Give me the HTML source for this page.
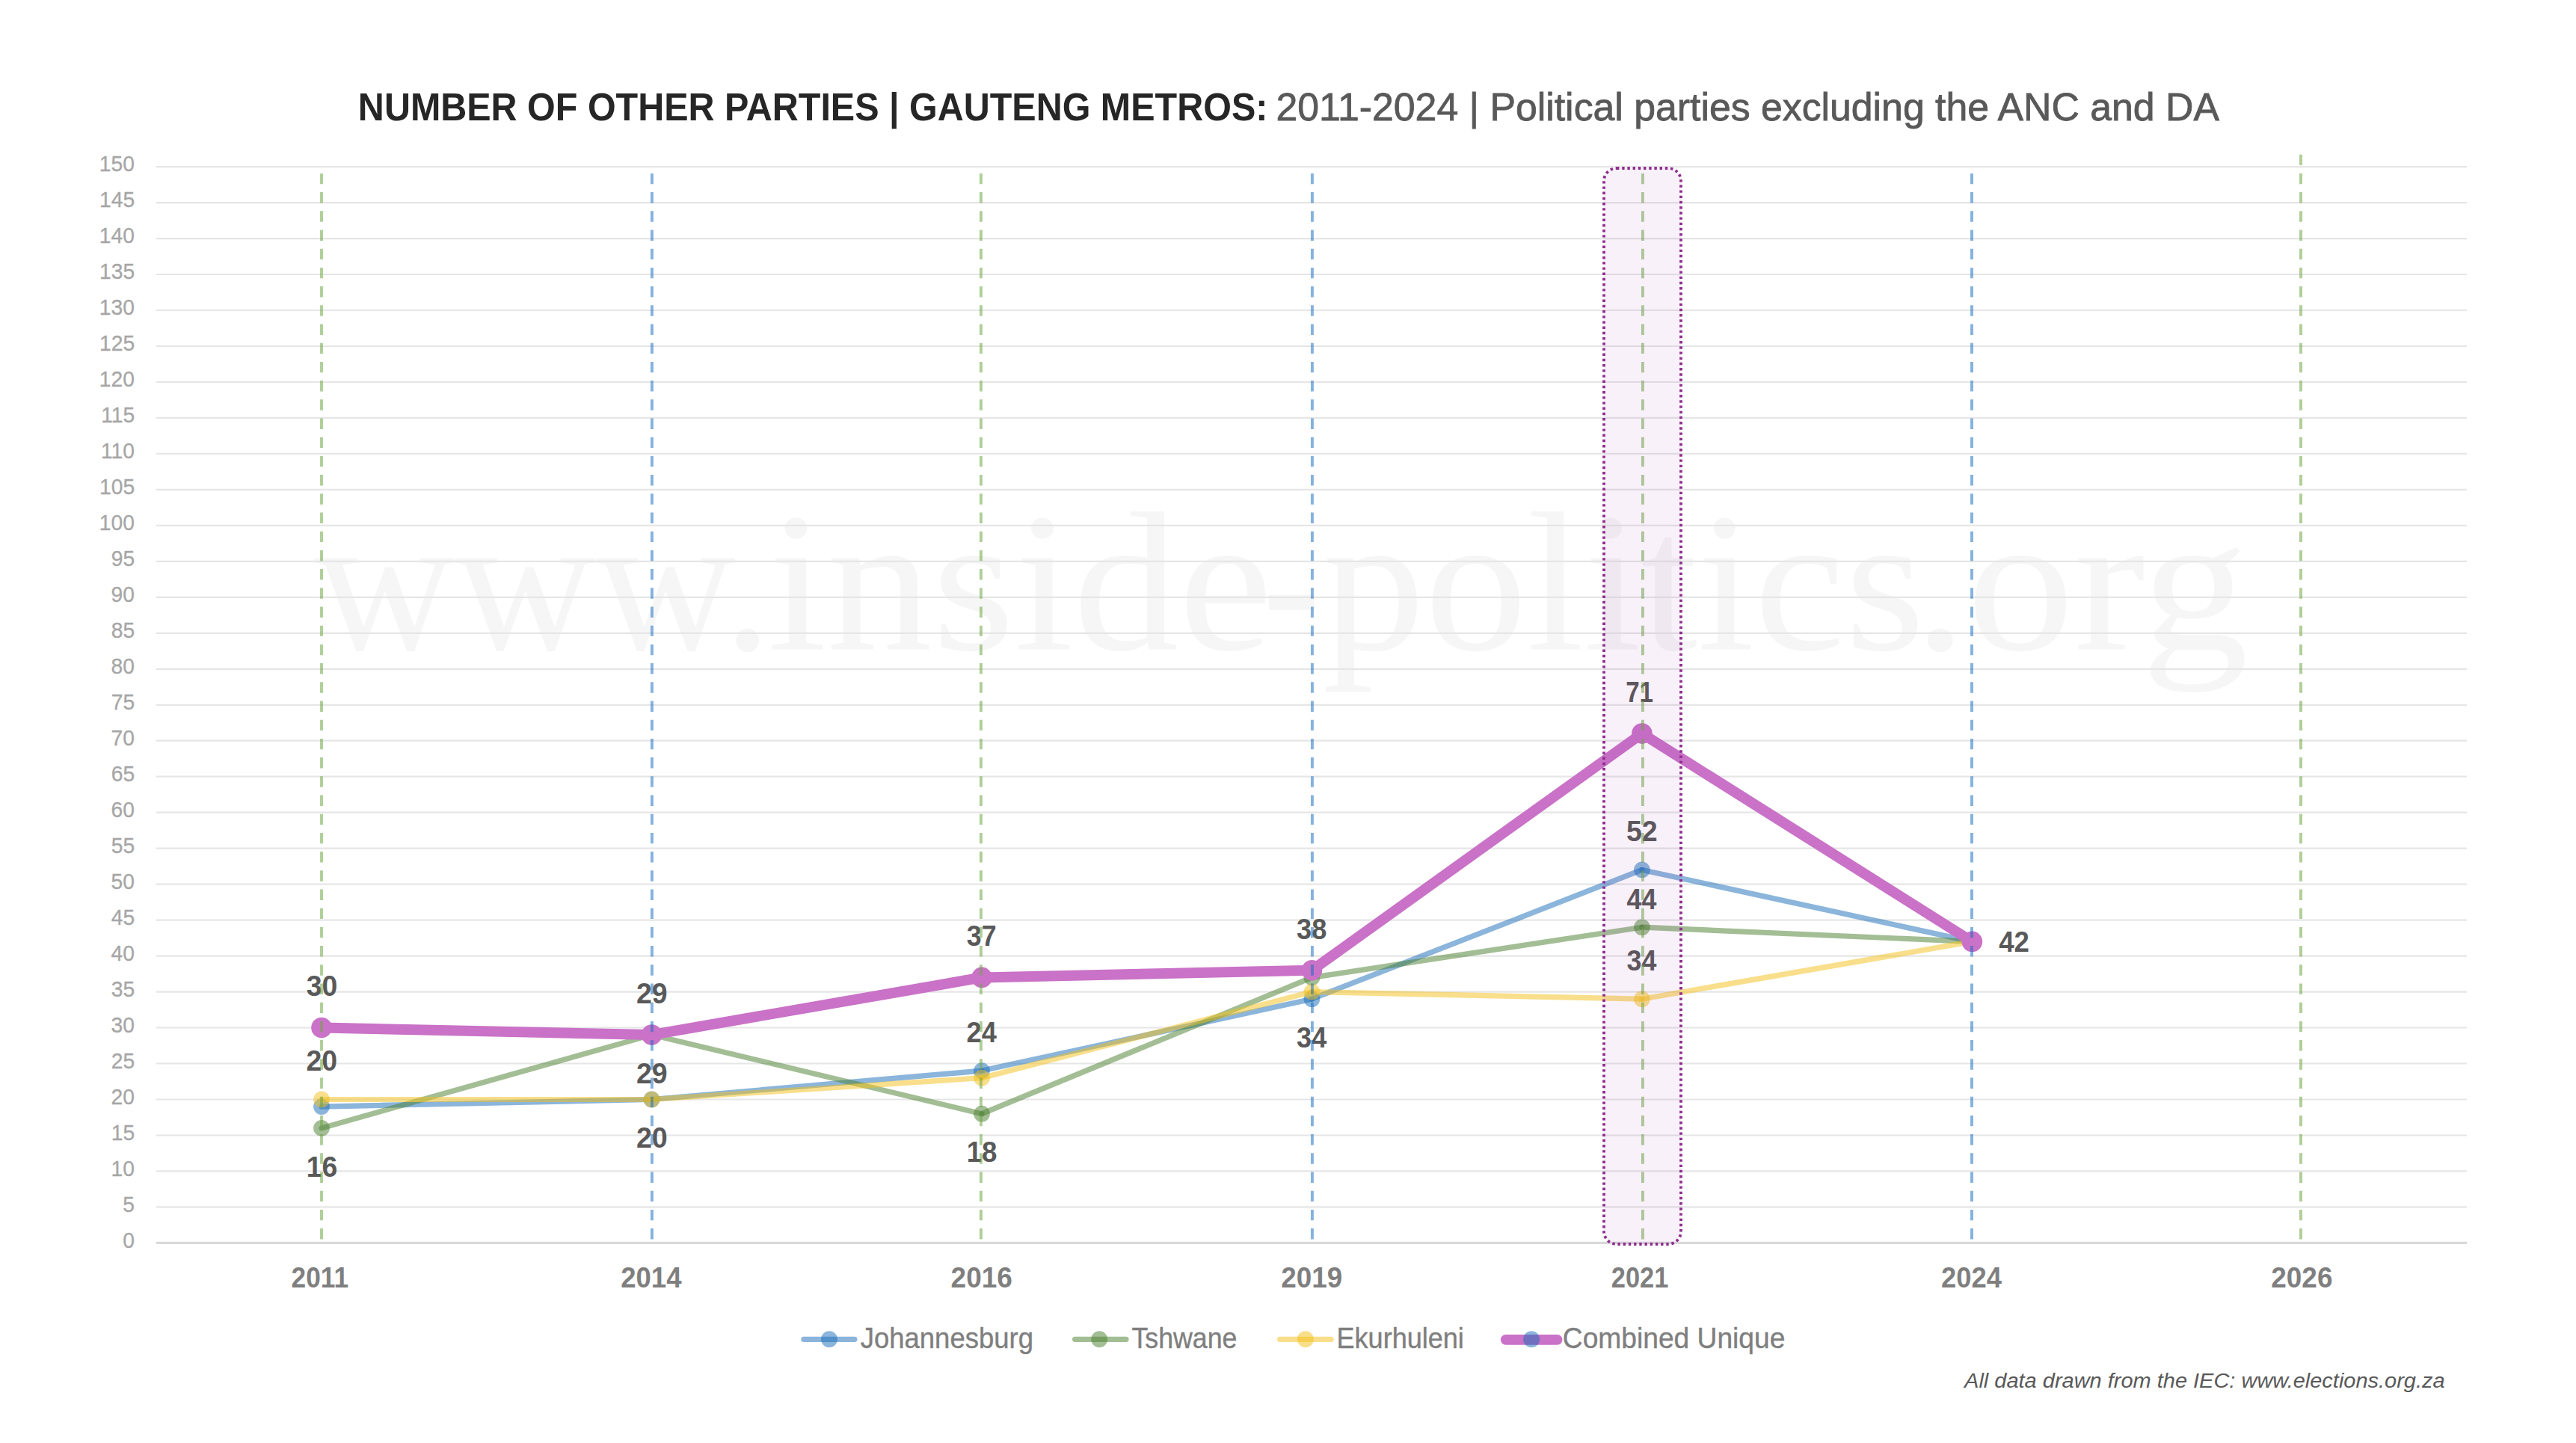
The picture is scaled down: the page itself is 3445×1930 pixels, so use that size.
<!DOCTYPE html>
<html lang="en"><head><meta charset="utf-8"><title>Number of other parties | Gauteng Metros</title>
<style>
html,body{margin:0;padding:0;background:#fff;}
body{width:3445px;height:1930px;overflow:hidden;font-family:"Liberation Sans",sans-serif;}
svg{display:block;position:absolute;left:0;top:0;}
text{font-family:"Liberation Sans",sans-serif;}
text.wm{font-family:"Liberation Serif",serif;}
</style></head><body>
<svg width="3445" height="1930" viewBox="0 0 3445 1930">
<rect x="0" y="0" width="3445" height="1930" fill="#ffffff"/>
<text transform="matrix(0.9774 0 0 1 420.76 868.50)" font-size="266" fill="#f6f6f6" class="wm">www.</text>
<text transform="matrix(1.0616 0 0 1 1027.16 868.50)" font-size="266" fill="#f6f6f6" class="wm">inside</text>
<text transform="matrix(0.8664 0 0 1 1688.55 868.50)" font-size="266" fill="#f6f6f6" class="wm">-</text>
<text transform="matrix(1.0283 0 0 1 1768.63 868.50)" font-size="266" fill="#f6f6f6" class="wm">politics</text>
<text transform="matrix(1.0766 0 0 1 2558.86 868.50)" font-size="266" fill="#f6f6f6" class="wm">.org</text>
<g stroke="#e6e6e6" stroke-width="2.2">
<line x1="209" x2="3299" y1="1614.4" y2="1614.4"/>
<line x1="209" x2="3299" y1="1566.4" y2="1566.4"/>
<line x1="209" x2="3299" y1="1518.5" y2="1518.5"/>
<line x1="209" x2="3299" y1="1470.5" y2="1470.5"/>
<line x1="209" x2="3299" y1="1422.5" y2="1422.5"/>
<line x1="209" x2="3299" y1="1374.5" y2="1374.5"/>
<line x1="209" x2="3299" y1="1326.6" y2="1326.6"/>
<line x1="209" x2="3299" y1="1278.6" y2="1278.6"/>
<line x1="209" x2="3299" y1="1230.6" y2="1230.6"/>
<line x1="209" x2="3299" y1="1182.6" y2="1182.6"/>
<line x1="209" x2="3299" y1="1134.7" y2="1134.7"/>
<line x1="209" x2="3299" y1="1086.7" y2="1086.7"/>
<line x1="209" x2="3299" y1="1038.7" y2="1038.7"/>
<line x1="209" x2="3299" y1="990.7" y2="990.7"/>
<line x1="209" x2="3299" y1="942.8" y2="942.8"/>
<line x1="209" x2="3299" y1="894.8" y2="894.8"/>
<line x1="209" x2="3299" y1="846.8" y2="846.8"/>
<line x1="209" x2="3299" y1="798.8" y2="798.8"/>
<line x1="209" x2="3299" y1="750.8" y2="750.8"/>
<line x1="209" x2="3299" y1="702.9" y2="702.9"/>
<line x1="209" x2="3299" y1="654.9" y2="654.9"/>
<line x1="209" x2="3299" y1="606.9" y2="606.9"/>
<line x1="209" x2="3299" y1="558.9" y2="558.9"/>
<line x1="209" x2="3299" y1="511.0" y2="511.0"/>
<line x1="209" x2="3299" y1="463.0" y2="463.0"/>
<line x1="209" x2="3299" y1="415.0" y2="415.0"/>
<line x1="209" x2="3299" y1="367.0" y2="367.0"/>
<line x1="209" x2="3299" y1="319.1" y2="319.1"/>
<line x1="209" x2="3299" y1="271.1" y2="271.1"/>
<line x1="209" x2="3299" y1="223.1" y2="223.1"/>
</g>
<line x1="209" x2="3299" y1="1662.4" y2="1662.4" stroke="#d9d9d9" stroke-width="3.4"/>
<line x1="430.0" y1="1480.1" x2="871.5" y2="1470.5" stroke="rgb(23,107,183)" stroke-width="7.2" stroke-linecap="round" stroke-opacity="0.5"/>
<line x1="871.5" y1="1470.5" x2="1313.0" y2="1432.1" stroke="rgb(23,107,183)" stroke-width="7.2" stroke-linecap="round" stroke-opacity="0.5"/>
<line x1="1313.0" y1="1432.1" x2="1754.4" y2="1336.2" stroke="rgb(23,107,183)" stroke-width="7.2" stroke-linecap="round" stroke-opacity="0.5"/>
<line x1="1754.4" y1="1336.2" x2="2195.9" y2="1163.4" stroke="rgb(23,107,183)" stroke-width="7.2" stroke-linecap="round" stroke-opacity="0.5"/>
<line x1="2195.9" y1="1163.4" x2="2637.4" y2="1259.4" stroke="rgb(23,107,183)" stroke-width="7.2" stroke-linecap="round" stroke-opacity="0.5"/>
<circle cx="430.0" cy="1480.1" r="10.9" fill="rgb(23,107,183)" fill-opacity="0.5"/>
<circle cx="871.5" cy="1470.5" r="10.9" fill="rgb(23,107,183)" fill-opacity="0.5"/>
<circle cx="1313.0" cy="1432.1" r="10.9" fill="rgb(23,107,183)" fill-opacity="0.5"/>
<circle cx="1754.4" cy="1336.2" r="10.9" fill="rgb(23,107,183)" fill-opacity="0.5"/>
<circle cx="2195.9" cy="1163.4" r="10.9" fill="rgb(23,107,183)" fill-opacity="0.5"/>
<circle cx="2637.4" cy="1259.4" r="10.9" fill="rgb(23,107,183)" fill-opacity="0.5"/>
<line x1="430.0" y1="1508.9" x2="871.5" y2="1384.1" stroke="rgb(71,125,43)" stroke-width="7.2" stroke-linecap="round" stroke-opacity="0.5"/>
<line x1="871.5" y1="1384.1" x2="1313.0" y2="1489.7" stroke="rgb(71,125,43)" stroke-width="7.2" stroke-linecap="round" stroke-opacity="0.5"/>
<line x1="1313.0" y1="1489.7" x2="1754.4" y2="1307.4" stroke="rgb(71,125,43)" stroke-width="7.2" stroke-linecap="round" stroke-opacity="0.5"/>
<line x1="1754.4" y1="1307.4" x2="2195.9" y2="1240.2" stroke="rgb(71,125,43)" stroke-width="7.2" stroke-linecap="round" stroke-opacity="0.5"/>
<line x1="2195.9" y1="1240.2" x2="2637.4" y2="1259.4" stroke="rgb(71,125,43)" stroke-width="7.2" stroke-linecap="round" stroke-opacity="0.5"/>
<circle cx="430.0" cy="1508.9" r="10.9" fill="rgb(71,125,43)" fill-opacity="0.5"/>
<circle cx="871.5" cy="1384.1" r="10.9" fill="rgb(71,125,43)" fill-opacity="0.5"/>
<circle cx="1313.0" cy="1489.7" r="10.9" fill="rgb(71,125,43)" fill-opacity="0.5"/>
<circle cx="1754.4" cy="1307.4" r="10.9" fill="rgb(71,125,43)" fill-opacity="0.5"/>
<circle cx="2195.9" cy="1240.2" r="10.9" fill="rgb(71,125,43)" fill-opacity="0.5"/>
<circle cx="2637.4" cy="1259.4" r="10.9" fill="rgb(71,125,43)" fill-opacity="0.5"/>
<line x1="430.0" y1="1470.5" x2="871.5" y2="1470.5" stroke="rgb(243,191,23)" stroke-width="7.2" stroke-linecap="round" stroke-opacity="0.5"/>
<line x1="871.5" y1="1470.5" x2="1313.0" y2="1441.7" stroke="rgb(243,191,23)" stroke-width="7.2" stroke-linecap="round" stroke-opacity="0.5"/>
<line x1="1313.0" y1="1441.7" x2="1754.4" y2="1326.6" stroke="rgb(243,191,23)" stroke-width="7.2" stroke-linecap="round" stroke-opacity="0.5"/>
<line x1="1754.4" y1="1326.6" x2="2195.9" y2="1336.2" stroke="rgb(243,191,23)" stroke-width="7.2" stroke-linecap="round" stroke-opacity="0.5"/>
<line x1="2195.9" y1="1336.2" x2="2637.4" y2="1259.4" stroke="rgb(243,191,23)" stroke-width="7.2" stroke-linecap="round" stroke-opacity="0.5"/>
<circle cx="430.0" cy="1470.5" r="10.9" fill="rgb(243,191,23)" fill-opacity="0.5"/>
<circle cx="871.5" cy="1470.5" r="10.9" fill="rgb(243,191,23)" fill-opacity="0.5"/>
<circle cx="1313.0" cy="1441.7" r="10.9" fill="rgb(243,191,23)" fill-opacity="0.5"/>
<circle cx="1754.4" cy="1326.6" r="10.9" fill="rgb(243,191,23)" fill-opacity="0.5"/>
<circle cx="2195.9" cy="1336.2" r="10.9" fill="rgb(243,191,23)" fill-opacity="0.5"/>
<circle cx="2637.4" cy="1259.4" r="10.9" fill="rgb(243,191,23)" fill-opacity="0.5"/>
<polyline points="430.0,1374.5 871.5,1384.1 1313.0,1307.4 1754.4,1297.8 2195.9,981.1 2637.4,1259.4" fill="none" stroke="#c972c7" stroke-width="14" stroke-linecap="round" stroke-linejoin="round"/>
<circle cx="430.0" cy="1374.5" r="13.8" fill="#c972c7" fill-opacity="1"/>
<circle cx="871.5" cy="1384.1" r="13.8" fill="#c972c7" fill-opacity="1"/>
<circle cx="1313.0" cy="1307.4" r="13.8" fill="#c972c7" fill-opacity="1"/>
<circle cx="1754.4" cy="1297.8" r="13.8" fill="#c972c7" fill-opacity="1"/>
<circle cx="2195.9" cy="981.1" r="13.8" fill="#c972c7" fill-opacity="1"/>
<circle cx="2637.4" cy="1259.4" r="13.8" fill="#c972c7" fill-opacity="1"/>
<text transform="matrix(0.9507 0 0 1 478.87 160.80)" font-size="51" fill="#262626" font-weight="bold">NUMBER OF OTHER PARTIES | GAUTENG METROS:</text>
<text transform="matrix(1.0156 0 0 1 1706.46 160.80)" font-size="51" fill="#595959" stroke="#595959" stroke-width="0.8">2011-2024 | Political parties excluding the ANC and DA</text>
<text transform="matrix(0.9400 0 0 1 164.33 1668.50)" font-size="30" fill="#a6a6a6" stroke="#a6a6a6" stroke-width="0.3">0</text>
<text transform="matrix(0.9400 0 0 1 164.33 1620.52)" font-size="30" fill="#a6a6a6" stroke="#a6a6a6" stroke-width="0.3">5</text>
<text transform="matrix(0.9400 0 0 1 148.59 1572.55)" font-size="30" fill="#a6a6a6" stroke="#a6a6a6" stroke-width="0.3">10</text>
<text transform="matrix(0.9400 0 0 1 148.82 1524.57)" font-size="30" fill="#a6a6a6" stroke="#a6a6a6" stroke-width="0.3">15</text>
<text transform="matrix(0.9400 0 0 1 148.59 1476.59)" font-size="30" fill="#a6a6a6" stroke="#a6a6a6" stroke-width="0.3">20</text>
<text transform="matrix(0.9400 0 0 1 148.82 1428.62)" font-size="30" fill="#a6a6a6" stroke="#a6a6a6" stroke-width="0.3">25</text>
<text transform="matrix(0.9400 0 0 1 148.59 1380.64)" font-size="30" fill="#a6a6a6" stroke="#a6a6a6" stroke-width="0.3">30</text>
<text transform="matrix(0.9400 0 0 1 148.82 1332.66)" font-size="30" fill="#a6a6a6" stroke="#a6a6a6" stroke-width="0.3">35</text>
<text transform="matrix(0.9400 0 0 1 148.59 1284.69)" font-size="30" fill="#a6a6a6" stroke="#a6a6a6" stroke-width="0.3">40</text>
<text transform="matrix(0.9400 0 0 1 148.82 1236.71)" font-size="30" fill="#a6a6a6" stroke="#a6a6a6" stroke-width="0.3">45</text>
<text transform="matrix(0.9400 0 0 1 148.59 1188.74)" font-size="30" fill="#a6a6a6" stroke="#a6a6a6" stroke-width="0.3">50</text>
<text transform="matrix(0.9400 0 0 1 148.82 1140.76)" font-size="30" fill="#a6a6a6" stroke="#a6a6a6" stroke-width="0.3">55</text>
<text transform="matrix(0.9400 0 0 1 148.59 1092.78)" font-size="30" fill="#a6a6a6" stroke="#a6a6a6" stroke-width="0.3">60</text>
<text transform="matrix(0.9400 0 0 1 148.82 1044.81)" font-size="30" fill="#a6a6a6" stroke="#a6a6a6" stroke-width="0.3">65</text>
<text transform="matrix(0.9400 0 0 1 148.59 996.83)" font-size="30" fill="#a6a6a6" stroke="#a6a6a6" stroke-width="0.3">70</text>
<text transform="matrix(0.9400 0 0 1 148.82 948.85)" font-size="30" fill="#a6a6a6" stroke="#a6a6a6" stroke-width="0.3">75</text>
<text transform="matrix(0.9400 0 0 1 148.59 900.88)" font-size="30" fill="#a6a6a6" stroke="#a6a6a6" stroke-width="0.3">80</text>
<text transform="matrix(0.9400 0 0 1 148.82 852.90)" font-size="30" fill="#a6a6a6" stroke="#a6a6a6" stroke-width="0.3">85</text>
<text transform="matrix(0.9400 0 0 1 148.59 804.92)" font-size="30" fill="#a6a6a6" stroke="#a6a6a6" stroke-width="0.3">90</text>
<text transform="matrix(0.9400 0 0 1 148.82 756.95)" font-size="30" fill="#a6a6a6" stroke="#a6a6a6" stroke-width="0.3">95</text>
<text transform="matrix(0.9400 0 0 1 132.84 708.97)" font-size="30" fill="#a6a6a6" stroke="#a6a6a6" stroke-width="0.3">100</text>
<text transform="matrix(0.9400 0 0 1 133.08 660.99)" font-size="30" fill="#a6a6a6" stroke="#a6a6a6" stroke-width="0.3">105</text>
<text transform="matrix(0.9400 0 0 1 134.96 613.02)" font-size="30" fill="#a6a6a6" stroke="#a6a6a6" stroke-width="0.3">110</text>
<text transform="matrix(0.9400 0 0 1 135.19 565.04)" font-size="30" fill="#a6a6a6" stroke="#a6a6a6" stroke-width="0.3">115</text>
<text transform="matrix(0.9400 0 0 1 132.84 517.06)" font-size="30" fill="#a6a6a6" stroke="#a6a6a6" stroke-width="0.3">120</text>
<text transform="matrix(0.9400 0 0 1 133.08 469.09)" font-size="30" fill="#a6a6a6" stroke="#a6a6a6" stroke-width="0.3">125</text>
<text transform="matrix(0.9400 0 0 1 132.84 421.11)" font-size="30" fill="#a6a6a6" stroke="#a6a6a6" stroke-width="0.3">130</text>
<text transform="matrix(0.9400 0 0 1 133.08 373.13)" font-size="30" fill="#a6a6a6" stroke="#a6a6a6" stroke-width="0.3">135</text>
<text transform="matrix(0.9400 0 0 1 132.84 325.16)" font-size="30" fill="#a6a6a6" stroke="#a6a6a6" stroke-width="0.3">140</text>
<text transform="matrix(0.9400 0 0 1 133.08 277.18)" font-size="30" fill="#a6a6a6" stroke="#a6a6a6" stroke-width="0.3">145</text>
<text transform="matrix(0.9400 0 0 1 132.84 229.21)" font-size="30" fill="#a6a6a6" stroke="#a6a6a6" stroke-width="0.3">150</text>
<text transform="matrix(0.9198 0 0 1 389.55 1722.30)" font-size="38.4" fill="#7f7f7f" font-weight="bold">2011</text>
<text transform="matrix(0.9512 0 0 1 830.21 1722.30)" font-size="38.4" fill="#7f7f7f" font-weight="bold">2014</text>
<text transform="matrix(0.9631 0 0 1 1271.60 1722.30)" font-size="38.4" fill="#7f7f7f" font-weight="bold">2016</text>
<text transform="matrix(0.9595 0 0 1 1713.30 1722.30)" font-size="38.4" fill="#7f7f7f" font-weight="bold">2019</text>
<text transform="matrix(0.8964 0 0 1 2154.78 1722.30)" font-size="38.4" fill="#7f7f7f" font-weight="bold">2021</text>
<text transform="matrix(0.9476 0 0 1 2596.02 1722.30)" font-size="38.4" fill="#7f7f7f" font-weight="bold">2024</text>
<text transform="matrix(0.9619 0 0 1 3037.30 1722.30)" font-size="38.4" fill="#7f7f7f" font-weight="bold">2026</text>
<text transform="matrix(0.9775 0 0 1 409.77 1332.15)" font-size="38.3" fill="#595959" font-weight="bold">30</text>
<text transform="matrix(0.9786 0 0 1 409.53 1431.95)" font-size="38.3" fill="#595959" font-weight="bold">20</text>
<text transform="matrix(0.9755 0 0 1 409.66 1574.00)" font-size="38.3" fill="#595959" font-weight="bold">16</text>
<text transform="matrix(0.9775 0 0 1 850.93 1342.10)" font-size="38.3" fill="#595959" font-weight="bold">29</text>
<text transform="matrix(0.9775 0 0 1 850.93 1449.20)" font-size="38.3" fill="#595959" font-weight="bold">29</text>
<text transform="matrix(0.9836 0 0 1 850.92 1534.90)" font-size="38.3" fill="#595959" font-weight="bold">20</text>
<text transform="matrix(0.9325 0 0 1 1292.82 1264.90)" font-size="38.3" fill="#595959" font-weight="bold">37</text>
<text transform="matrix(0.9455 0 0 1 1292.52 1393.90)" font-size="38.3" fill="#595959" font-weight="bold">24</text>
<text transform="matrix(0.9564 0 0 1 1292.66 1553.90)" font-size="38.3" fill="#595959" font-weight="bold">18</text>
<text transform="matrix(0.9432 0 0 1 1734.06 1255.75)" font-size="38.3" fill="#595959" font-weight="bold">38</text>
<text transform="matrix(0.9422 0 0 1 1734.11 1400.80)" font-size="38.3" fill="#595959" font-weight="bold">34</text>
<text transform="matrix(0.8654 0 0 1 2174.19 939.20)" font-size="38.3" fill="#595959" font-weight="bold">71</text>
<text transform="matrix(0.9786 0 0 1 2174.93 1125.05)" font-size="38.3" fill="#595959" font-weight="bold">52</text>
<text transform="matrix(0.9333 0 0 1 2175.53 1216.30)" font-size="38.3" fill="#595959" font-weight="bold">44</text>
<text transform="matrix(0.9349 0 0 1 2175.47 1297.70)" font-size="38.3" fill="#595959" font-weight="bold">34</text>
<text transform="matrix(0.9556 0 0 1 2673.17 1272.95)" font-size="38.3" fill="#595959" font-weight="bold">42</text>
<text transform="matrix(0.9603 0 0 1 1150.68 1802.70)" font-size="38" fill="#7f7f7f" stroke="#7f7f7f" stroke-width="0.4">Johannesburg</text>
<text transform="matrix(0.9397 0 0 1 1513.50 1802.70)" font-size="38" fill="#7f7f7f" stroke="#7f7f7f" stroke-width="0.4">Tshwane</text>
<text transform="matrix(0.9489 0 0 1 1787.55 1802.70)" font-size="38" fill="#7f7f7f" stroke="#7f7f7f" stroke-width="0.4">Ekurhuleni</text>
<text transform="matrix(0.9784 0 0 1 2089.84 1802.70)" font-size="38" fill="#7f7f7f" stroke="#7f7f7f" stroke-width="0.4">Combined Unique</text>
<text transform="matrix(1.0353 0 0 1 2627.09 1855.70)" font-size="28" fill="#595959" font-style="italic">All data drawn from the IEC: www.elections.org.za</text>
<line x1="430.0" x2="430.0" y1="231.9" y2="1657.6" stroke="rgb(109,165,68)" stroke-opacity="0.55" stroke-width="3.9" stroke-dasharray="14.4 10.8"/>
<line x1="871.9" x2="871.9" y1="231.9" y2="1657.6" stroke="rgb(20,108,194)" stroke-opacity="0.52" stroke-width="3.9" stroke-dasharray="14.4 10.8"/>
<line x1="1311.9" x2="1311.9" y1="231.9" y2="1657.6" stroke="rgb(109,165,68)" stroke-opacity="0.55" stroke-width="3.9" stroke-dasharray="14.4 10.8"/>
<line x1="1754.9" x2="1754.9" y1="231.9" y2="1657.6" stroke="rgb(20,108,194)" stroke-opacity="0.52" stroke-width="3.9" stroke-dasharray="14.4 10.8"/>
<line x1="2196.9" x2="2196.9" y1="231.9" y2="1657.6" stroke="rgb(109,165,68)" stroke-opacity="0.55" stroke-width="3.9" stroke-dasharray="14.4 10.8"/>
<line x1="2637.0" x2="2637.0" y1="231.9" y2="1657.6" stroke="rgb(20,108,194)" stroke-opacity="0.52" stroke-width="3.9" stroke-dasharray="14.4 10.8"/>
<line x1="3077.0" x2="3077.0" y1="206.7" y2="1657.6" stroke="rgb(109,165,68)" stroke-opacity="0.55" stroke-width="3.9" stroke-dasharray="14.4 10.8"/>
<rect x="2145" y="225" width="103" height="1439" rx="17" ry="17" fill="rgb(160,60,170)" fill-opacity="0.07" stroke="none"/>
<rect x="2145" y="225" width="103" height="1439" rx="17" ry="17" fill="none" stroke="#8f2d8f" stroke-width="3.8" stroke-dasharray="3.4 3.8"/>
<line x1="1074.9" x2="1142.9" y1="1791.3" y2="1791.3" stroke="rgb(23,107,183)" stroke-opacity="0.5" stroke-width="7.2" stroke-linecap="round"/>
<circle cx="1109.0" cy="1791.2" r="11" fill="rgb(23,107,183)" fill-opacity="0.5"/>
<line x1="1437.6" x2="1506.0" y1="1791.3" y2="1791.3" stroke="rgb(71,125,43)" stroke-opacity="0.5" stroke-width="7.2" stroke-linecap="round"/>
<circle cx="1470.2" cy="1791.2" r="11" fill="rgb(71,125,43)" fill-opacity="0.5"/>
<line x1="1711.6" x2="1780.1" y1="1791.3" y2="1791.3" stroke="rgb(243,191,23)" stroke-opacity="0.5" stroke-width="7.2" stroke-linecap="round"/>
<circle cx="1745.9" cy="1791.2" r="11" fill="rgb(243,191,23)" fill-opacity="0.5"/>
<line x1="2013.7" x2="2082.6" y1="1791.8" y2="1791.8" stroke="#c972c7" stroke-opacity="1" stroke-width="13.8" stroke-linecap="round"/>
<circle cx="2048.1" cy="1791.2" r="11" fill="rgb(23,107,183)" fill-opacity="0.5"/>
</svg>
</body></html>
